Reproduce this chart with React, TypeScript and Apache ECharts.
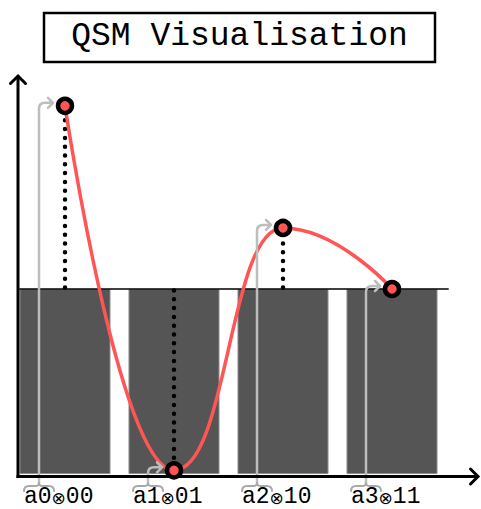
import React, { useEffect, useRef } from "react";
import * as echarts from "echarts";

const title = "QSM Visualisation";
const categories = ["a0⊗00", "a1⊗01", "a2⊗10", "a3⊗11"];
const barValues = [1, 1, 1, 1];
const pointValues = [1.99, 0.02, 1.33, 1.0];
const referenceLevel = 1;

const FONT = '"Liberation Mono", "DejaVu Sans Mono", monospace';
const RED = "#ff5555";
const GRAY = "#bdbdbd";

function richLabel(s: string) {
  const parts = s.split("⊗");
  return `{b|${parts[0]}}{s|⊗}{b|${parts[1]}}`;
}

export default function App() {
  const ref = useRef<HTMLDivElement>(null);
  useEffect(() => {
    if (!ref.current) return;
    const chart = echarts.init(ref.current, undefined, { renderer: "svg" });
    const pts = pointValues.map((v, i) => [i, v]);
    const option: any = {
      animation: false,
      backgroundColor: "#fff",
      grid: { left: 10.5, right: 34.5, top: 67, bottom: 35, containLabel: false },
      xAxis: { type: "category", data: categories, show: false, boundaryGap: true },
      yAxis: { type: "value", min: 0, max: 2.2, show: false },
      graphic: [
        {
          type: "rect",
          shape: { x: 44, y: 13, width: 391, height: 49 },
          style: { fill: "#fff", stroke: "#000", lineWidth: 2.5 },
          z: 100,
        },
        {
          type: "text",
          x: 239.5,
          y: 36,
          style: {
            text: title,
            font: `33px ${FONT}`,
            fill: "#000",
            align: "center",
            verticalAlign: "middle",
          },
          z: 101,
        },
        {
          type: "polyline",
          shape: { points: [[18, 478], [18, 76]] },
          style: { stroke: "#000", lineWidth: 3, fill: "none" },
          z: 100,
        },
        {
          type: "polyline",
          shape: { points: [[10.5, 83.5], [18, 76], [25.5, 83.5]] },
          style: { stroke: "#000", lineWidth: 3, fill: "none", lineCap: "round" },
          z: 100,
        },
        {
          type: "polyline",
          shape: { points: [[16.5, 476.5], [478, 476.5]] },
          style: { stroke: "#000", lineWidth: 3, fill: "none" },
          z: 100,
        },
        {
          type: "polyline",
          shape: { points: [[470.5, 469], [478, 476.5], [470.5, 484]] },
          style: { stroke: "#000", lineWidth: 3, fill: "none", lineCap: "round" },
          z: 100,
        },
      ],
      series: [
        {
          type: "bar",
          data: barValues,
          barCategoryGap: "16.5%",
          itemStyle: { color: "#555555", borderColor: "#8c8c8c", borderWidth: 1 },
          z: 1,
        },
        {
          type: "custom",
          data: pts,
          z: 2,
          renderItem: (params: any, api: any) => {
            if (params.dataIndex !== 0) return null;
            const bw = api.size([1, 0])[0];
            const a = api.coord([0, referenceLevel]);
            const b = api.coord([categories.length - 1, referenceLevel]);
            return {
              type: "line",
              shape: { x1: a[0] - bw * 0.42, y1: a[1], x2: b[0] + bw * 0.52, y2: b[1] },
              style: { stroke: "#000", lineWidth: 1.5 },
            };
          },
        },
        {
          type: "custom",
          data: pts,
          z: 3,
          renderItem: (params: any, api: any) => {
            const i = api.value(0);
            const v = api.value(1);
            const p = api.coord([i, v]);
            const base = api.coord([i, referenceLevel]);
            if (Math.abs(p[1] - base[1]) < 14) return null;
            const end = p[1] < base[1] ? p[1] + 11 : p[1] - 11;
            return {
              type: "line",
              shape: { x1: p[0], y1: base[1] - (p[1] < base[1] ? 1.5 : -1.5), x2: p[0], y2: end },
              style: { stroke: "#000", lineWidth: 4.5, lineDash: [0, 8.8], lineCap: "round" },
            };
          },
        },
        {
          type: "line",
          data: pointValues,
          smooth: 0.5,
          smoothMonotone: "x",
          symbol: "none",
          lineStyle: { color: RED, width: 3.5 },
          z: 4,
        },
        {
          type: "custom",
          data: pts,
          z: 5,
          renderItem: (params: any, api: any) => {
            const i = api.value(0);
            const v = api.value(1);
            const p = api.coord([i, v]);
            const base = api.coord([i, 0])[1];
            const tx = p[0] - 26;
            const ay = p[1] - 3;
            const tipX = p[0] - 12;
            const by = base + 9;
            const arrow = `M${tx},${by} L${tx},${ay + 6} Q${tx},${ay} ${tx + 6},${ay} L${tipX},${ay} M${tipX - 5},${ay - 5} L${tipX},${ay} L${tipX - 5},${ay + 5}`;
            const brace = `M${tx - 15},${base + 17} Q${tx - 15},${base + 12} ${tx - 10},${base + 12} L${tx - 4},${base + 12} Q${tx},${base + 12} ${tx},${by} Q${tx},${base + 12} ${tx + 4},${base + 12} L${tx + 10},${base + 12} Q${tx + 15},${base + 12} ${tx + 15},${base + 17}`;
            return {
              type: "group",
              children: [
                {
                  type: "path",
                  shape: { pathData: arrow },
                  style: { stroke: GRAY, lineWidth: 2.5, fill: "none", lineCap: "round", lineJoin: "round" },
                },
                {
                  type: "path",
                  shape: { pathData: brace },
                  style: { stroke: "#a8a8a8", lineWidth: 2, fill: "none", lineCap: "round", lineJoin: "round" },
                },
                {
                  type: "text",
                  x: p[0] - 41,
                  y: base + 22.5,
                  style: {
                    text: richLabel(categories[params.dataIndex]),
                    align: "left",
                    verticalAlign: "middle",
                    fill: "#000",
                    rich: {
                      b: { fontFamily: FONT, fontSize: 23, lineHeight: 18, fill: "#000", color: "#000" },
                      s: { fontFamily: '"DejaVu Sans", sans-serif', fontSize: 17, lineHeight: 18, fill: "#000", color: "#000", padding: [2, 0, 0, 0] },
                    },
                  },
                },
              ],
            };
          },
        },
        {
          type: "scatter",
          data: pointValues,
          symbol: "circle",
          symbolSize: 14,
          itemStyle: { color: RED, borderColor: "#000", borderWidth: 4.5, opacity: 1 },
          z: 6,
        },
      ],
    };
    chart.setOption(option);
    return () => chart.dispose();
  }, []);
  return (
    <div
      ref={ref}
      style={{ position: "absolute", left: 0, top: 0, width: 481, height: 509 }}
    />
  );
}
